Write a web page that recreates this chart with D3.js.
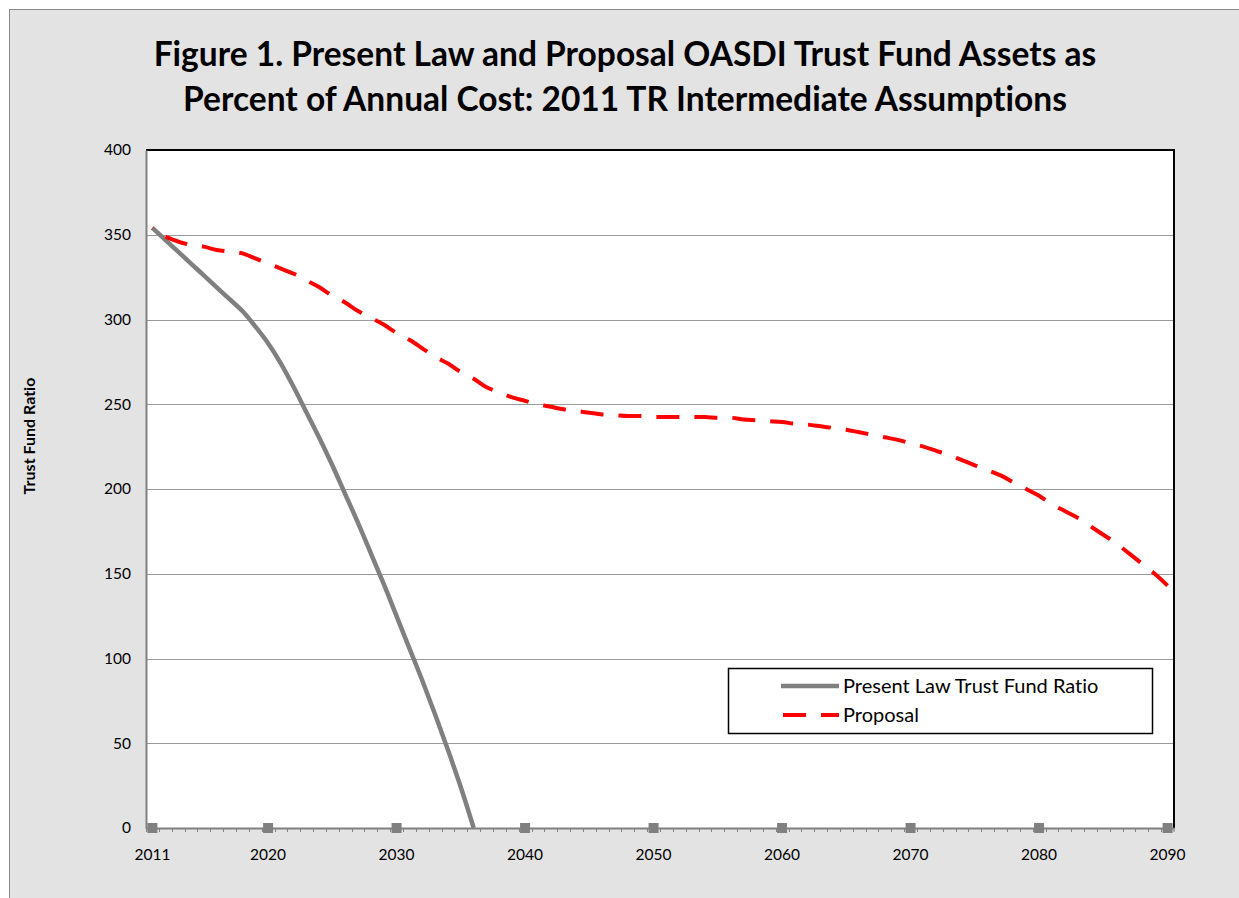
<!doctype html>
<html>
<head>
<meta charset="UTF-8">
<title>Figure 1</title>
<script src="https://cdn.jsdelivr.net/npm/d3@7"></script>
<style>
    body { margin: 0; background: #fff; }
    svg text { font-family: Lato, "Noto Sans", sans-serif; fill: #000; font-variant-ligatures: none; }
</style>
</head>
<body>
<svg class="chart" width="1239" height="898"></svg>
<script>
    var years = d3.range(2011, 2091);
    var labelYears = [2011, 2020, 2030, 2040, 2050, 2060, 2070, 2080, 2090];
    var yTicks = [0, 50, 100, 150, 200, 250, 300, 350, 400];

    // present law ratio, 2011..2036 (fund exhausted in 2036)
    var presentLaw = [354, 347, 340, 333, 326, 319, 312, 305, 296, 286,
        274, 260, 245, 230, 214, 197, 180, 162, 144, 125,
        106, 87, 67, 46, 24, 0];

    // proposal ratio, 2011..2090
    var proposal = [354, 349, 346, 344, 343, 341, 340, 339, 336, 333,
        330, 327, 323, 319, 314, 310, 305, 301, 297, 292,
        288, 283, 278, 274, 269, 265, 260, 257, 254, 252,
        250, 248.5, 247, 246, 245, 244, 243.5, 243, 243, 242.5,
        242.5, 242.5, 242.5, 242.5, 242, 242, 241, 240.5, 240, 239.5,
        238.5, 238, 237, 236, 235, 233.5, 232, 230.5, 229, 227,
        225, 222.5, 220, 217, 214, 211, 208, 204, 200, 196,
        191, 187, 183, 178, 173, 168, 162, 156, 150, 143];

    var seriesNames = ['Present Law Trust Fund Ratio', 'Proposal'];

    var svg = d3.select('.chart');
    var plotLeft = 146, plotRight = 1174, plotTop = 150, plotBottom = 828;

    // grey chart area
    svg.append('rect').attr('x', 9.5).attr('y', 9.5).attr('width', 1240).attr('height', 900)
        .attr('fill', '#e3e3e3').attr('stroke', '#888').attr('stroke-width', 1);

    svg.append('rect').attr('x', plotLeft).attr('y', plotTop)
        .attr('width', plotRight - plotLeft).attr('height', plotBottom - plotTop)
        .attr('fill', '#fff');

    var x = d3.scaleBand().domain(years).range([plotLeft, plotRight]).paddingInner(0).paddingOuter(0);
    var y = d3.scaleLinear().domain([0, 400]).range([plotBottom, plotTop]);
    var cx = function (yr) { return x(yr) + x.bandwidth() / 2; };

    // grid lines
    svg.append('g').selectAll('line').data(yTicks.filter(function (d) { return d > 0 && d < 400; }))
        .enter().append('line')
        .attr('x1', plotLeft).attr('x2', plotRight)
        .attr('y1', function (d) { return Math.round(y(d)) + 0.5; })
        .attr('y2', function (d) { return Math.round(y(d)) + 0.5; })
        .attr('stroke', '#9a9a9a').attr('stroke-width', 1);

    // top and right border
    svg.append('path')
        .attr('d', 'M' + plotLeft + ',' + plotTop + 'H' + plotRight + 'V' + plotBottom)
        .attr('fill', 'none').attr('stroke', '#000').attr('stroke-width', 2);

    // y axis
    var yAxis = svg.append('g').attr('transform', 'translate(' + plotLeft + ',0)')
        .call(d3.axisLeft(y).tickValues(yTicks).tickSize(0).tickPadding(15));
    yAxis.select('.domain').attr('stroke', '#808080').attr('stroke-width', 2);
    yAxis.selectAll('text').attr('font-size', 15.5);

    // x axis
    var xAxis = svg.append('g').attr('transform', 'translate(0,' + plotBottom + ')')
        .call(d3.axisBottom(x).tickValues(labelYears).tickSize(0).tickPadding(21));
    xAxis.select('.domain').attr('stroke', '#808080').attr('stroke-width', 2);
    xAxis.selectAll('text').attr('font-size', 15.5);

    // minor ticks between categories
    svg.append('g').selectAll('line').data(years.concat([null]))
        .enter().append('line')
        .attr('x1', function (d) { return d === null ? plotRight : Math.round(x(d)) + 0.5; })
        .attr('x2', function (d) { return d === null ? plotRight : Math.round(x(d)) + 0.5; })
        .attr('y1', plotBottom).attr('y2', plotBottom + 4)
        .attr('stroke', '#808080').attr('stroke-width', 1);

    // markers on the zero line
    svg.append('g').selectAll('rect').data(labelYears)
        .enter().append('rect')
        .attr('x', function (d) { return cx(d) - 5; })
        .attr('y', plotBottom - 5)
        .attr('width', 10).attr('height', 10)
        .attr('fill', '#808080');

    var line = d3.line()
        .x(function (d, i) { return cx(years[i]); })
        .y(function (d) { return y(d); })
        .curve(d3.curveMonotoneX);

    svg.append('path').datum(presentLaw)
        .attr('d', line)
        .attr('fill', 'none').attr('stroke', '#808080').attr('stroke-width', 4.5);

    var propPath = svg.append('path').datum(proposal)
        .attr('d', line)
        .attr('fill', 'none').attr('stroke', '#ff0000').attr('stroke-width', 4)
        .attr('stroke-dasharray', '23,15');
    // shift the dashes so the line ends on a dash, as in the original
    var len = propPath.node().getTotalLength();
    propPath.attr('stroke-dashoffset', ((21 - len % 38) % 38 + 38) % 38);

    // title
    var title = svg.append('text').attr('text-anchor', 'middle').attr('font-weight', 'bold').attr('font-size', 33.5);
    title.append('tspan').attr('x', 625).attr('y', 66).text('Figure 1. Present Law and Proposal OASDI Trust Fund Assets as');
    title.append('tspan').attr('x', 625).attr('y', 111).text('Percent of Annual Cost: 2011 TR Intermediate Assumptions');

    // y axis title
    svg.append('text')
        .attr('transform', 'translate(35,436) rotate(-90)')
        .attr('text-anchor', 'middle').attr('font-weight', 'bold').attr('font-size', 16)
        .text('Trust Fund Ratio');

    // legend
    var legend = svg.append('g');
    legend.append('rect').attr('x', 728.5).attr('y', 668.5).attr('width', 424).attr('height', 65)
        .attr('fill', '#fff').attr('stroke', '#000').attr('stroke-width', 1.5);
    legend.append('line').attr('x1', 781).attr('x2', 839).attr('y1', 686).attr('y2', 686)
        .attr('stroke', '#808080').attr('stroke-width', 4.5);
    legend.append('line').attr('x1', 783).attr('x2', 839).attr('y1', 715).attr('y2', 715)
        .attr('stroke', '#ff0000').attr('stroke-width', 4).attr('stroke-dasharray', '23,15');
    legend.selectAll('text.lab').data(seriesNames)
        .enter().append('text').attr('class', 'lab')
        .attr('x', 843).attr('y', function (d, i) { return 693 + i * 29; })
        .attr('font-size', 20)
        .text(function (d) { return d; });
</script>
</body>
</html>
